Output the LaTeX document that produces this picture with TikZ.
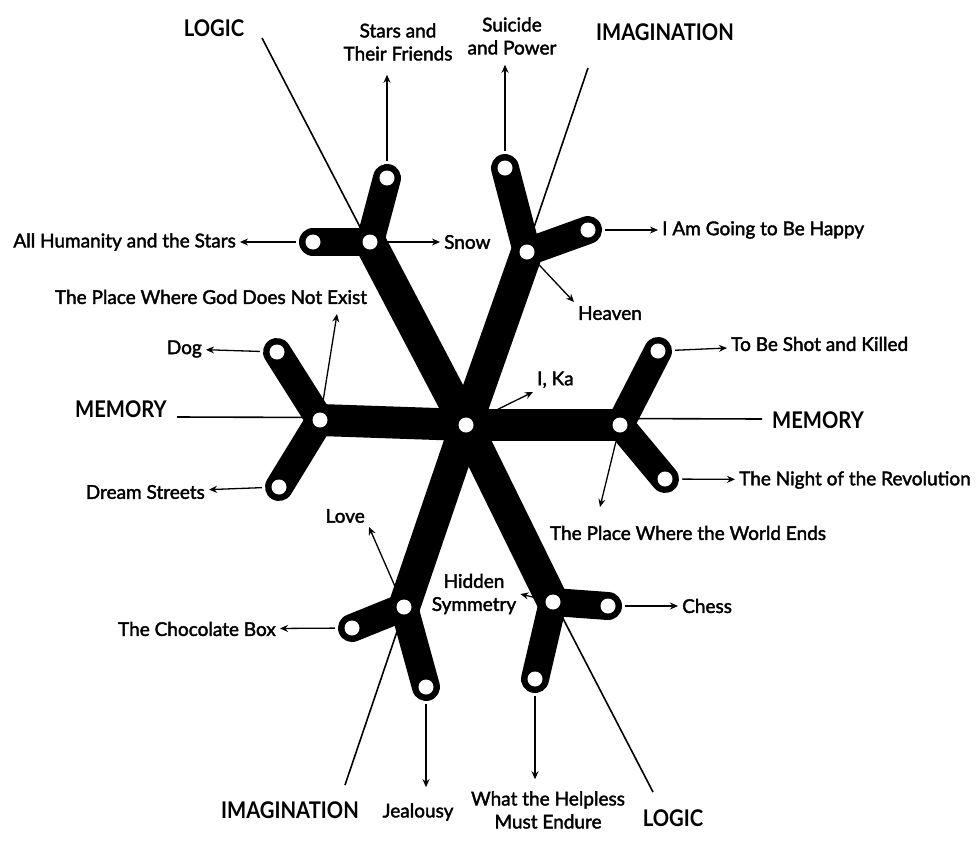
\documentclass[tikz,border=0pt]{standalone}
\usepackage{fontspec}
\usetikzlibrary{arrows.meta}
\newfontfamily\lblfont{Lato}[FakeBold=2]
\newfontfamily\headfont{Lato}[FakeStretch=0.88]

\begin{document}
\begin{tikzpicture}[x=1pt, y=-1pt,
    spoke/.style={line width=32pt, line cap=round},
    bar/.style={line width=28pt, line cap=round},
    axis/.style={line width=1.6pt},
    ray/.style={line width=1.3pt, -{Stealth[length=8pt, width=7pt]}},
    pin/.style={circle, minimum size=34pt, inner sep=0pt},
    lbl/.style={font=\lblfont\fontsize{19}{23}\selectfont, align=center, inner sep=4pt},
    head/.style={font=\headfont\bfseries\fontsize{23}{26}\selectfont, inner sep=2pt}]

    \useasboundingbox (0,0) rectangle (978,841);

    % Hub and joints
    \node[pin] (c)   at (466,425) {};
    \node[pin] (jl)  at (320,420) {};
    \node[pin] (jr)  at (620,425) {};
    \node[pin] (jul) at (370,242) {};
    \node[pin] (jur) at (527,252) {};
    \node[pin] (jll) at (404,607) {};
    \node[pin] (jlr) at (553,602) {};

    % Branch ends
    \node[pin] (lu)  at (277,352) {};
    \node[pin] (ld)  at (279,487) {};
    \node[pin] (ru)  at (658,351) {};
    \node[pin] (rd)  at (665,479) {};
    \node[pin] (ulh) at (313,242) {};
    \node[pin] (ulu) at (387,178) {};
    \node[pin] (uru) at (505,168) {};
    \node[pin] (urh) at (588,230) {};
    \node[pin] (llh) at (352,628) {};
    \node[pin] (lld) at (426,687) {};
    \node[pin] (lrh) at (608,606) {};
    \node[pin] (lrd) at (535,679) {};

    % Axes
    \coordinate (lN) at (262,38);
    \coordinate (lS) at (653,792);
    \coordinate (iN) at (588,68);
    \coordinate (iS) at (345,785);
    \coordinate (mW) at (177,417);
    \coordinate (mE) at (762,419);
    \draw[axis] (lN) -- (lS);
    \draw[axis] (iN) -- (iS);
    \draw[axis] (mW) -- (mE);

    % Spokes
    \draw[spoke] (c.center) -- (jl.center);
    \draw[spoke] (c.center) -- (jr.center);
    \draw[spoke] (c.center) -- (jul.center);
    \draw[spoke] (c.center) -- (jur.center);
    \draw[spoke] (c.center) -- (jll.center);
    \draw[spoke] (c.center) -- (jlr.center);

    % Branches
    \draw[bar] (jl.center) -- (lu.center);
    \draw[bar] (jl.center) -- (ld.center);
    \draw[bar] (jr.center) -- (ru.center);
    \draw[bar] (jr.center) -- (rd.center);
    \draw[bar] (jul.center) -- (ulh.center);
    \draw[bar] (jul.center) -- (ulu.center);
    \draw[bar] (jur.center) -- (uru.center);
    \draw[bar] (jur.center) -- (urh.center);
    \draw[bar] (jll.center) -- (llh.center);
    \draw[bar] (jll.center) -- (lld.center);
    \draw[bar] (jlr.center) -- (lrh.center);
    \draw[bar] (jlr.center) -- (lrd.center);

    % Holes
    \foreach \p in {c,jl,jr,jul,jur,jll,jlr,lu,ld,ru,rd,ulh,ulu,uru,urh,llh,lld,lrh,lrd}
        \fill[white] (\p.center) circle (7.5pt);

    % Axis names
    \node[head] (logicN) at (214,28)  {LOGIC};
    \node[head] (imagN)  at (665,32)  {IMAGINATION};
    \node[head] (memW)   at (121,409) {MEMORY};
    \node[head] (memE)   at (818,420) {MEMORY};
    \node[head] (imagS)  at (290,810) {IMAGINATION};
    \node[head] (logicS) at (673,818) {LOGIC};

    % Upper left
    \node[lbl] (stars) at (398,42) {Stars and\\Their Friends};
    \draw[ray, shorten >=10pt] (ulu) -- (ulu |- stars.south);
    \node[lbl, anchor=east] (humanity) at (240,242) {All Humanity and the Stars};
    \draw[ray] (ulh) -- (humanity);
    \node[lbl, anchor=west] (snow) at (440,242) {Snow};
    \draw[ray] (jul) -- (snow);

    % Upper right
    \node[lbl] (suicide) at (512,36) {Suicide\\and Power};
    \draw[ray, shorten >=6pt] (uru) -- (uru |- suicide.south);
    \node[lbl, anchor=west] (happy) at (658,230) {I Am Going to Be Happy};
    \draw[ray] (urh) -- (happy);
    \node[lbl, anchor=north west] (heaven) at (574,302) {Heaven};
    \draw[ray] (jur) -- (heaven.north west);

    % Left
    \node[lbl] (god) at (211,297) {The Place Where God Does Not Exist};
    \coordinate (godtip) at (337,314);
    \draw[ray] (jl) -- (godtip);
    \node[lbl, anchor=east] (dog) at (206,349) {Dog};
    \draw[ray] (lu) -- (dog);
    \node[lbl, anchor=east] (dream) at (209,492) {Dream Streets};
    \draw[ray] (ld) -- (dream);

    % Hub
    \node[lbl, anchor=south west] (ika) at (533,392) {I, Ka};
    \draw[ray] (c) -- (ika.south west);

    % Right
    \node[lbl, anchor=west] (shot) at (727,344) {To Be Shot and Killed};
    \draw[ray] (ru) -- (shot);
    \node[lbl] (worldend) at (688,533) {The Place Where the World Ends};
    \coordinate (endtip) at (600,507);
    \draw[ray] (jr) -- (endtip);
    \node[lbl, anchor=west] (night) at (735,480) {The Night of the Revolution};
    \draw[ray] (rd) -- (night);

    % Lower left
    \node[lbl, anchor=south east] (love) at (369,527) {Love};
    \draw[ray] (jll) -- (love.south east);
    \node[lbl, anchor=east] (choc) at (280,629) {The Chocolate Box};
    \draw[ray] (llh) -- (choc);
    \node[lbl] (jealousy) at (418,812) {Jealousy};
    \draw[ray, shorten >=12pt] (lld) -- (lld |- jealousy.north);

    % Lower right
    \node[lbl] (hidden) at (474,594) {Hidden\\Symmetry};
    \draw[ray] (jlr) -- (hidden.east);
    \node[lbl, anchor=west] (chess) at (678,606) {Chess};
    \draw[ray] (lrh) -- (chess);
    \node[lbl] (helpless) at (548,810) {What the Helpless\\Must Endure};
    \draw[ray, shorten >=8pt] (lrd) -- (lrd |- helpless.north);

\end{tikzpicture}
\end{document}
